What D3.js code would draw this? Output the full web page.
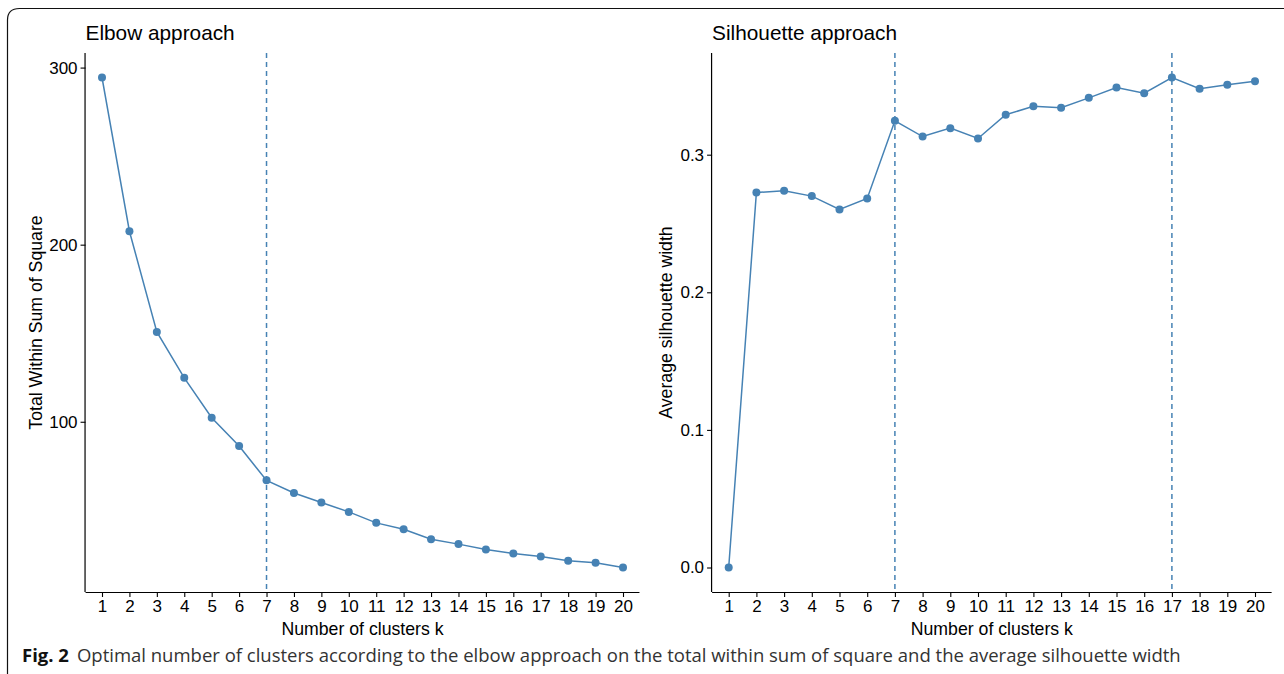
<!DOCTYPE html>
<html>
<head>
<meta charset="utf-8">
<script src="https://cdn.jsdelivr.net/npm/d3@7"></script>
<style>
  html, body { margin: 0; padding: 0; background: #fff; }
  svg { display: block; }
</style>
</head>
<body>
<svg id="chart" width="1284" height="674"></svg>
<script>
const ks = d3.range(1, 21);
const elbowValues = [294.4, 207.6, 150.7, 124.8, 102.3, 86.3, 66.9, 59.8, 54.4, 49.1,
                     42.9, 39.3, 33.7, 30.9, 27.9, 25.6, 23.9, 21.5, 20.4, 17.7];
const silValues = [0.0, 0.2725, 0.2738, 0.2699, 0.2602, 0.2682, 0.3246, 0.3132, 0.3193, 0.3118,
                   0.3290, 0.3352, 0.3341, 0.3413, 0.3488, 0.3447, 0.3561, 0.3479, 0.3508, 0.3534];
const elbowTicks = [100, 200, 300];
const silTicks = [0.0, 0.1, 0.2, 0.3];
const elbowLines = [7];
const silLines = [7, 17];
const titles = ["Elbow approach", "Silhouette approach"];
const yLabels = ["Total Within Sum of Square", "Average silhouette width"];
const xLabel = "Number of clusters k";
const captionBold = "Fig. 2";
const captionText = "Optimal number of clusters according to the elbow approach on the total within sum of square and the average silhouette width";

const svg = d3.select("#chart");
const color = "#4682B4";
const font = "'Liberation Sans', Arial, Helvetica, sans-serif";

// frame
svg.append("path")
  .attr("d", "M7.5,674 L7.5,20 Q7.5,8.5 19.5,8.5 L1284,8.5")
  .attr("fill", "none").attr("stroke", "#111").attr("stroke-width", 1.2);

function panel(opt) {
  const g = svg.append("g");
  const x = d3.scalePoint().domain(ks).range([opt.x1, opt.x20]);
  const step = x.step();
  const ext = d3.extent(opt.values);
  const pad = (ext[1] - ext[0]) * 0.05;
  const y = d3.scaleLinear().domain([ext[0] - pad, ext[1] + pad]).range([opt.bottom, opt.top]);
  const left = opt.x1 - 0.6 * step, right = opt.x20 + 0.6 * step;

  // axes
  const xAxis = d3.axisBottom(x).tickSize(5).tickPadding(3);
  const gx = g.append("g").attr("transform", `translate(0,${opt.bottom})`).call(xAxis);
  gx.select(".domain").attr("d", `M${left},0.5H${right}`).attr("stroke", "#000").attr("stroke-width", 1.2);
  const yAxis = d3.axisLeft(y).tickValues(opt.ticks).tickFormat(opt.fmt).tickSize(5).tickPadding(3);
  const gy = g.append("g").attr("transform", `translate(${left},0)`).call(yAxis);
  gy.select(".domain").attr("d", `M-0.5,${opt.top}V${opt.bottom}`).attr("stroke", "#000").attr("stroke-width", 1.2);
  [gx, gy].forEach(a => {
    a.selectAll("text").attr("font-family", font).attr("font-size", 17).attr("fill", "#000");
    a.selectAll(".tick line").attr("stroke", "#000").attr("stroke-width", 1.1);
  });

  // dashed lines
  g.selectAll(".vline").data(opt.lines).join("line")
    .attr("x1", d => x(d)).attr("x2", d => x(d))
    .attr("y1", opt.top).attr("y2", opt.bottom)
    .attr("stroke", color).attr("stroke-width", 1.5).attr("stroke-dasharray", "5,4");

  const pts = ks.map((k, i) => [x(k), y(opt.values[i])]);
  g.append("path").attr("d", d3.line()(pts))
    .attr("fill", "none").attr("stroke", color).attr("stroke-width", 1.5);
  g.selectAll(".pt").data(pts).join("circle")
    .attr("cx", d => d[0]).attr("cy", d => d[1]).attr("r", 4).attr("fill", color);

  // title
  g.append("text").attr("x", left).attr("y", 40)
    .attr("font-family", font).attr("font-size", 20.8).attr("fill", "#000").text(opt.title);
  // x label
  g.append("text").attr("x", (left + right) / 2).attr("y", 635)
    .attr("text-anchor", "middle").attr("font-family", font).attr("font-size", 17.7).attr("fill", "#000").text(xLabel);
  // y label
  g.append("text").attr("transform", `translate(${opt.ylabX},${(opt.top + opt.bottom) / 2}) rotate(-90)`)
    .attr("text-anchor", "middle").attr("font-family", font).attr("font-size", 17.7).attr("fill", "#000").text(opt.ylab);
}

panel({ x1: 102, x20: 623, top: 53, bottom: 592, values: elbowValues, ticks: elbowTicks,
        fmt: d3.format("d"), lines: elbowLines, title: titles[0], ylab: yLabels[0], ylabX: 42 });
panel({ x1: 728.7, x20: 1255, top: 53, bottom: 592, values: silValues, ticks: silTicks,
        fmt: d3.format(".1f"), lines: silLines, title: titles[1], ylab: yLabels[1], ylabX: 672 });

// caption
const cap = svg.append("text").attr("x", 22).attr("y", 662)
  .attr("font-family", "'Open Sans', 'Noto Sans', sans-serif").attr("font-size", 18.5).attr("fill", "#222");
cap.append("tspan").attr("font-weight", "bold").attr("fill", "#111").text(captionBold);
cap.append("tspan").attr("dx", 8).attr("fill", "#333").text(captionText);
</script>
</body>
</html>
